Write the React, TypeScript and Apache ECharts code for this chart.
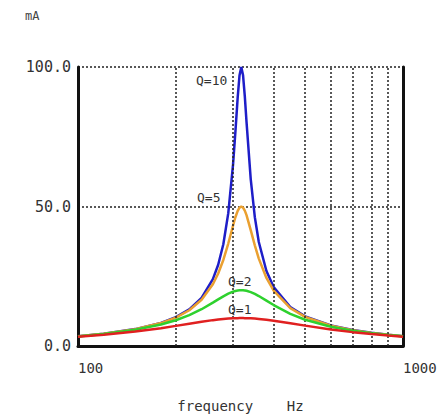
import React, { useEffect, useRef } from "react";
import * as echarts from "echarts";

const freqs = [100, 120, 150, 180, 200, 220, 240, 260, 270, 280, 290, 300, 305, 310, 314, 318, 322, 326, 330, 340, 350, 360, 380, 400, 450, 500, 600, 700, 800, 900, 1000];
const q1 = [3.29, 4.03, 5.19, 6.4, 7.21, 7.99, 8.69, 9.27, 9.5, 9.69, 9.83, 9.93, 9.97, 9.99, 10.0, 10.0, 10.0, 9.99, 9.97, 9.91, 9.82, 9.7, 9.41, 9.08, 8.16, 7.3, 5.93, 4.97, 4.27, 3.74, 3.34];
const q2 = [3.44, 4.3, 5.81, 7.69, 9.23, 11.06, 13.18, 15.53, 16.71, 17.81, 18.76, 19.48, 19.73, 19.9, 19.97, 20.0, 19.98, 19.9, 19.78, 19.32, 18.67, 17.91, 16.26, 14.68, 11.53, 9.42, 6.92, 5.5, 4.6, 3.96, 3.48];
const q5 = [3.48, 4.38, 6.02, 8.22, 10.19, 12.82, 16.55, 22.12, 25.99, 30.84, 36.73, 43.2, 46.14, 48.45, 49.6, 50.0, 49.61, 48.52, 46.89, 41.55, 36.07, 31.33, 24.38, 19.83, 13.59, 10.44, 7.29, 5.69, 4.7, 4.02, 3.53];
const q10 = [3.49, 4.4, 6.06, 8.3, 10.35, 13.15, 17.27, 23.95, 29.11, 36.48, 47.61, 65.09, 76.76, 89.09, 96.95, 100.0, 97.01, 89.55, 80.35, 59.84, 46.19, 37.29, 26.89, 21.11, 13.98, 10.62, 7.35, 5.71, 4.72, 4.03, 3.54];
const gridFreqs = [200, 300, 400, 500, 600, 700, 800, 900];
const yTicks = [0, 50, 100];
const curveLabels = ["Q=10", "Q=5", "Q=2", "Q=1"];

const MONO = "'DejaVu Sans Mono', monospace";

export default function App() {
  const ref = useRef<HTMLDivElement>(null);
  useEffect(() => {
    if (!ref.current) return;
    const chart = echarts.init(ref.current, null, { renderer: "svg" });
    const zip = (arr: number[]) => freqs.map((f, i) => [f, arr[i]]);
    const dotted = { type: [2, 2] as number[], color: "#222", width: 1.5 };
    const mkSeries = (name: string, arr: number[], color: string, z: number) => ({
      name,
      type: "line",
      data: zip(arr),
      showSymbol: false,
      smooth: false,
      z,
      lineStyle: { color, width: 2.5 },
      itemStyle: { color },
    });
    chart.setOption({
      animation: false,
      backgroundColor: "#ffffff",
      grid: { left: 78, top: 67, right: 43, bottom: 68 },
      xAxis: {
        type: "log",
        logBase: 10,
        min: 100,
        max: 1000,
        name: "frequency    Hz",
        nameLocation: "middle",
        nameGap: 53,
        nameTextStyle: { fontFamily: MONO, fontSize: 14, color: "#333" },
        axisLine: { show: true, lineStyle: { color: "#111", width: 3 } },
        axisTick: { show: false },
        splitLine: { show: false },
        axisLabel: {
          fontFamily: MONO,
          fontSize: 14,
          color: "#333",
          margin: 15,
          alignMinLabel: "left",
          alignMaxLabel: "left",
          formatter: (v: number) => String(Math.round(v)),
        },
      },
      yAxis: [
        {
          type: "value",
          min: yTicks[0],
          max: yTicks[yTicks.length - 1],
          interval: 50,
          axisLine: { show: true, lineStyle: { color: "#111", width: 3 } },
          axisTick: { show: false },
          axisLabel: {
            fontFamily: MONO,
            fontSize: 15,
            color: "#333",
            margin: 7,
            formatter: (v: number) => v.toFixed(1),
          },
          splitLine: { show: true, lineStyle: dotted },
        },
        {
          type: "value",
          min: 0,
          max: 100,
          position: "right",
          axisLine: { show: true, lineStyle: { color: "#111", width: 3 } },
          axisTick: { show: false },
          axisLabel: { show: false },
          splitLine: { show: false },
        },
      ],
      graphic: [
        { type: "text", left: 25, top: 10, style: { text: "mA", fontFamily: MONO, fontSize: 12, fill: "#444" } },
        { type: "text", left: 196, top: 74, style: { text: curveLabels[0], fontFamily: MONO, fontSize: 13, fill: "#333", backgroundColor: "#fff" } },
        { type: "text", left: 197, top: 191, style: { text: curveLabels[1], fontFamily: MONO, fontSize: 13, fill: "#333" } },
        { type: "text", left: 228, top: 275, style: { text: curveLabels[2], fontFamily: MONO, fontSize: 13, fill: "#333" } },
        { type: "text", left: 228, top: 303, style: { text: curveLabels[3], fontFamily: MONO, fontSize: 13, fill: "#333" } },
      ],
      series: [
        {
          type: "line",
          data: [],
          z: 1,
          silent: true,
          markLine: {
            silent: true,
            symbol: "none",
            label: { show: false },
            lineStyle: dotted,
            data: gridFreqs.map((f) => ({ xAxis: f })),
          },
        },
        mkSeries(curveLabels[0], q10, "#1e1ec8", 3),
        mkSeries(curveLabels[1], q5, "#eaa030", 4),
        mkSeries(curveLabels[2], q2, "#2ed12e", 5),
        mkSeries(curveLabels[3], q1, "#e02020", 6),
      ],
    });
    return () => chart.dispose();
  }, []);
  return <div ref={ref} style={{ position: "fixed", left: 0, top: 0, width: 446, height: 418 }} />;
}
